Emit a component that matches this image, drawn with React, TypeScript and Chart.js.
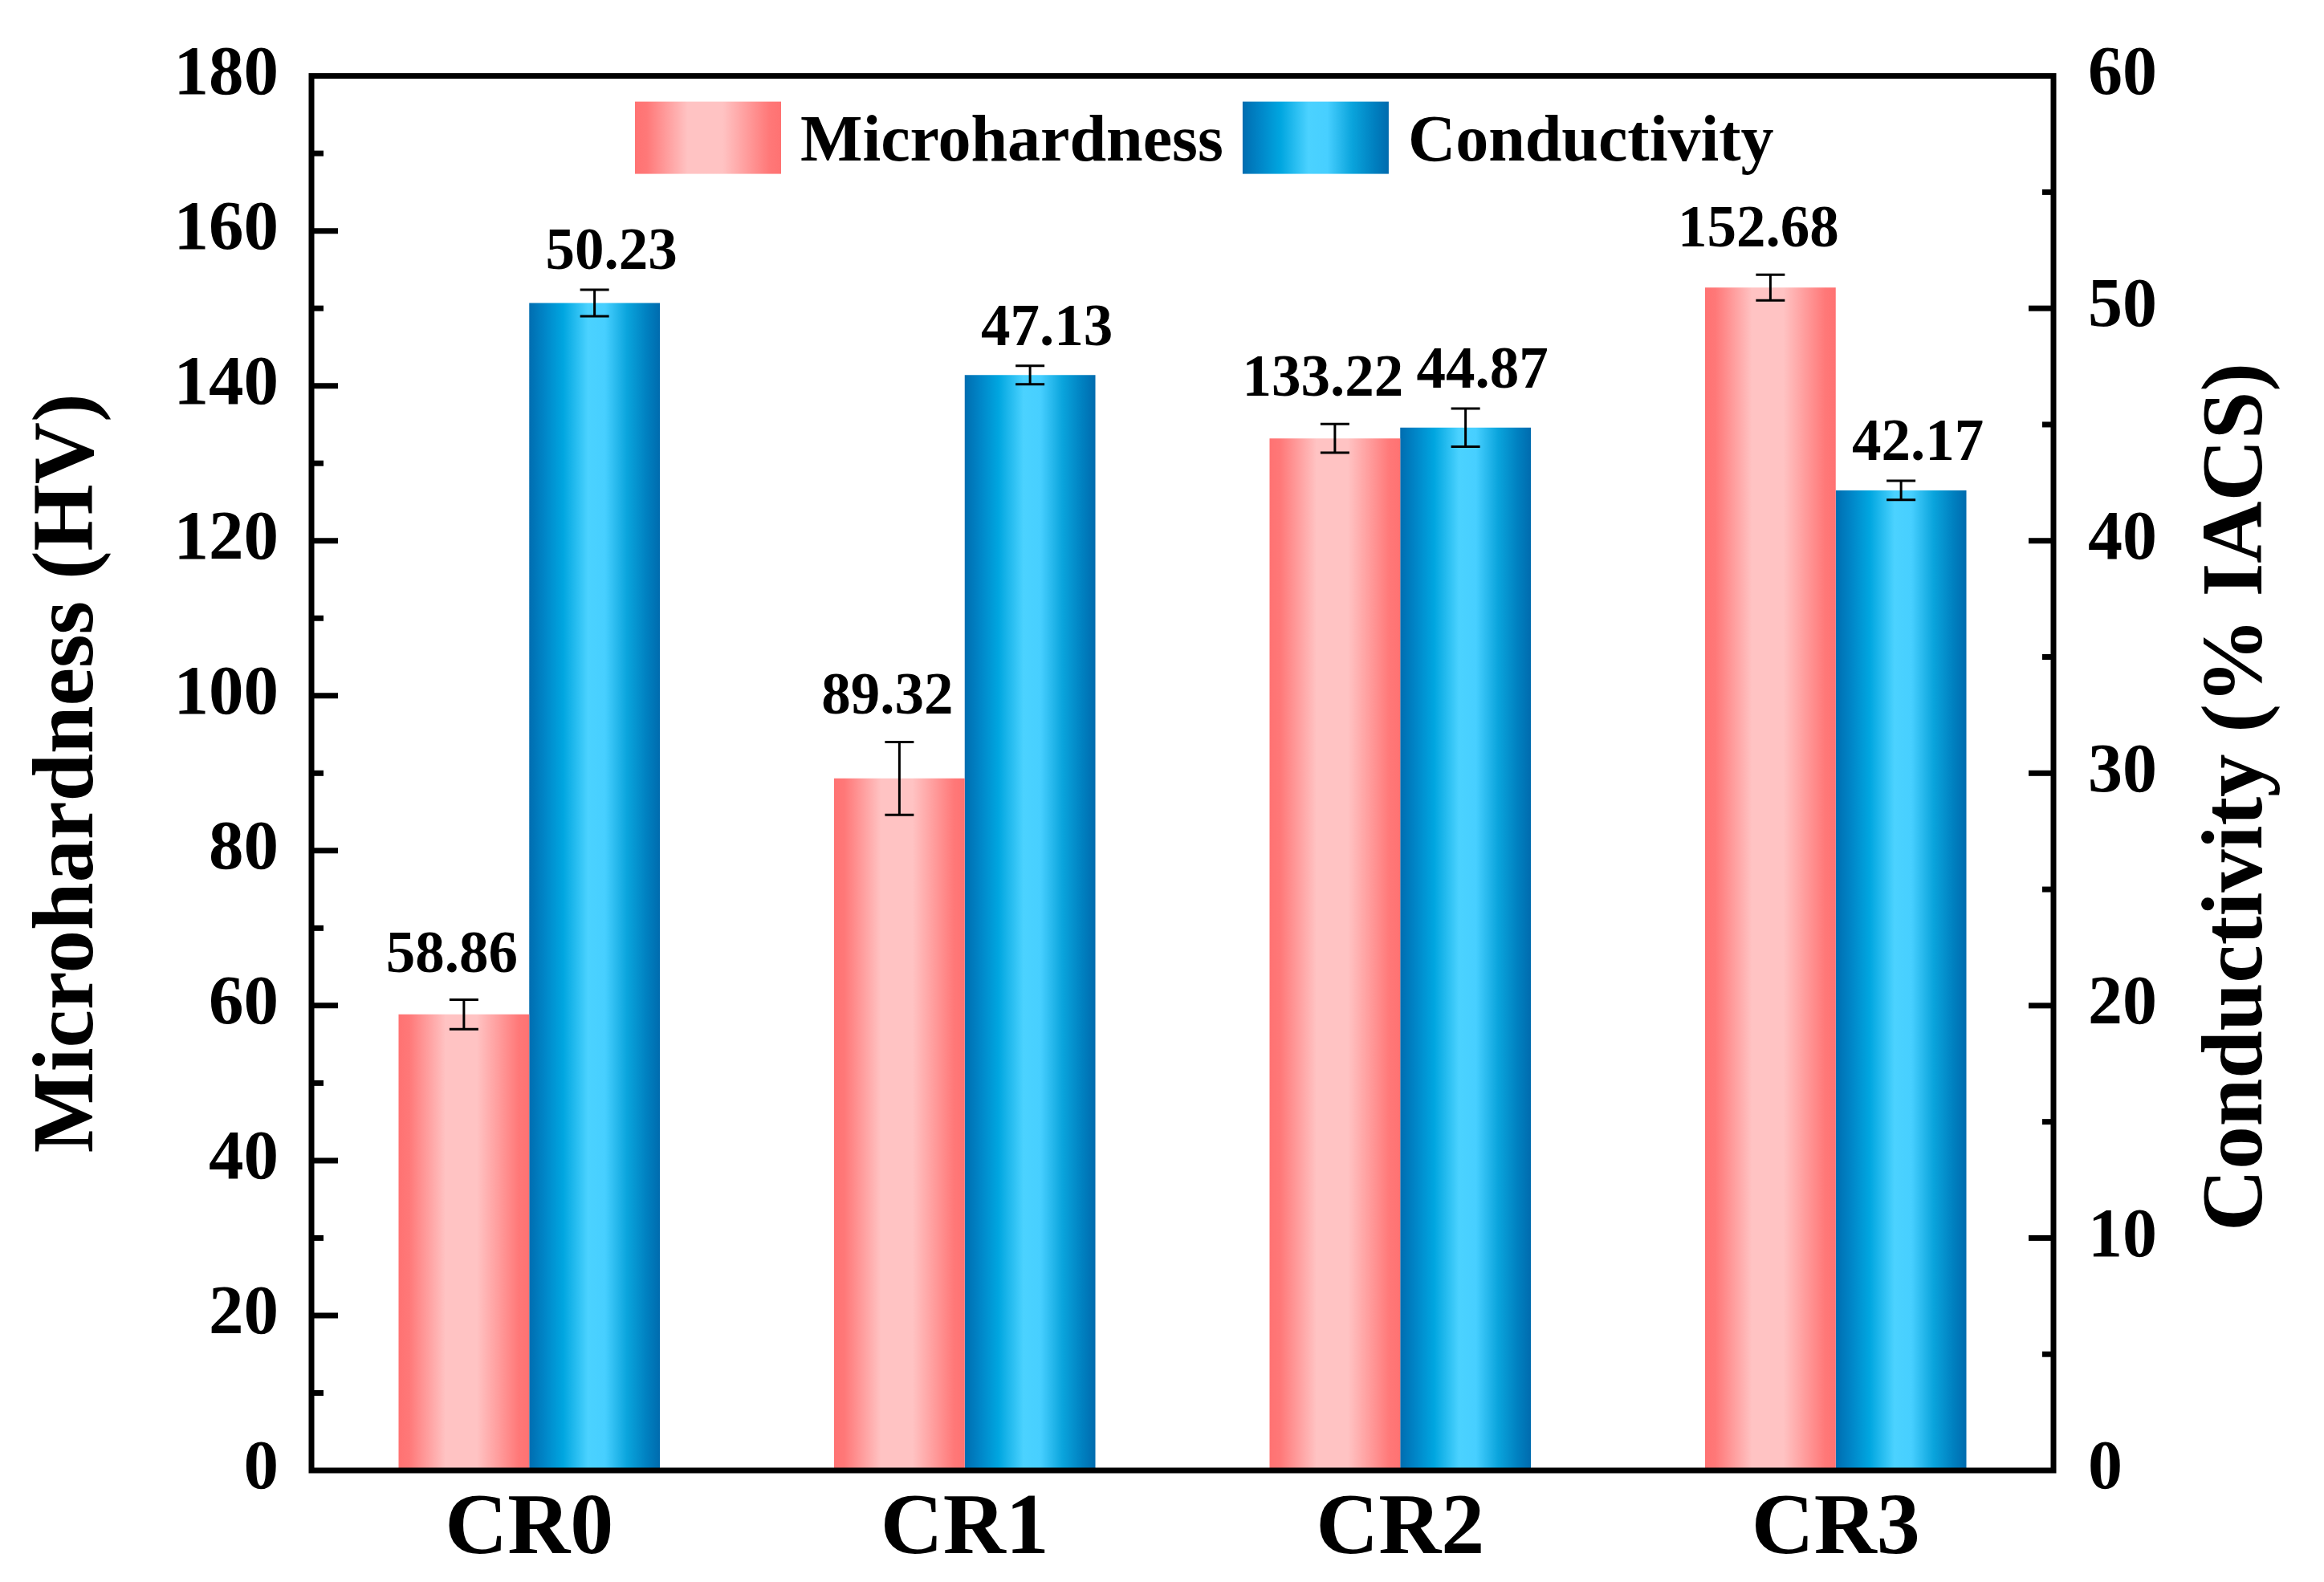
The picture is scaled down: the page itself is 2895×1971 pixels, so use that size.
import React, { useEffect, useRef } from 'react';
import { Chart, registerables } from 'chart.js';

Chart.register(...registerables);

const categories = ['CR0', 'CR1', 'CR2', 'CR3'];
const seriesNames = ['Microhardness', 'Conductivity'];
const microhardness = [58.86, 89.32, 133.22, 152.68];
const microhardnessErr = [1.9, 4.7, 1.85, 1.65];
const conductivity = [50.23, 47.13, 44.87, 42.17];
const conductivityErr = [0.57, 0.4, 0.82, 0.41];
const leftAxis = { min: 0, max: 180, step: 20 };
const rightAxis = { min: 0, max: 60, step: 10 };
const leftTitle = 'Microhardness (HV)';
const rightTitle = 'Conductivity (% IACS)';

const W = 2895;
const H = 1971;
const FONT = "'Liberation Serif', 'Times New Roman', serif";
const CAT_PCT = 0.6;

const pinkStops: [number, string][] = [
  [0, '#FF7272'], [0.08, '#FF7878'], [0.36, '#FFC3C3'], [0.6, '#FFC3C3'], [0.92, '#FF7878'], [1, '#FF7272'],
];
const blueStops: [number, string][] = [
  [0, '#006DB0'], [0.12, '#0086C8'], [0.26, '#00A6E0'], [0.45, '#4BD2FF'], [0.58, '#47CFFF'],
  [0.75, '#0AA4DC'], [0.9, '#0080C0'], [1, '#006BAE'],
];

function grad(ctx: CanvasRenderingContext2D, l: number, r: number, stops: [number, string][]) {
  const g = ctx.createLinearGradient(l, 0, r, 0);
  stops.forEach(([o, c]) => g.addColorStop(o, c));
  return g;
}

function barFill(stops: [number, string][], fallback: string) {
  return (c: any) => {
    const chart = c.chart;
    const xs = chart.scales && chart.scales.x;
    if (!xs || !chart.chartArea || c.dataIndex === undefined) return fallback;
    const center = xs.getPixelForValue(c.dataIndex);
    const catW = (xs.right - xs.left) / categories.length;
    const half = (catW * CAT_PCT) / 2;
    const left = c.datasetIndex === 0 ? center - half : center;
    return grad(chart.ctx, left, left + half, stops);
  };
}

const decorPlugin = {
  id: 'decor',
  afterDatasetsDraw(chart: any) {
    const { ctx, chartArea: a, scales } = chart;
    ctx.save();
    ctx.strokeStyle = '#000';
    ctx.fillStyle = '#000';
    // frame
    ctx.lineWidth = 7;
    ctx.strokeRect(a.left, a.top, a.right - a.left, a.bottom - a.top);
    // inward ticks
    ctx.lineWidth = 7;
    const y = scales.y;
    for (let v = leftAxis.min; v <= leftAxis.max; v += leftAxis.step / 2) {
      const p = y.getPixelForValue(v);
      const major = Math.round(v / leftAxis.step) * leftAxis.step === v;
      if (v === leftAxis.min || v === leftAxis.max) continue;
      ctx.beginPath();
      ctx.moveTo(a.left, p);
      ctx.lineTo(a.left + (major ? 33 : 15), p);
      ctx.stroke();
    }
    const y1 = scales.y1;
    for (let v = rightAxis.min; v <= rightAxis.max; v += rightAxis.step / 2) {
      const p = y1.getPixelForValue(v);
      const major = Math.round(v / rightAxis.step) * rightAxis.step === v;
      if (v === rightAxis.min || v === rightAxis.max) continue;
      ctx.beginPath();
      ctx.moveTo(a.right, p);
      ctx.lineTo(a.right - (major ? 31 : 14), p);
      ctx.stroke();
    }
    // error bars and value labels
    const sets = [
      { vals: microhardness, errs: microhardnessErr, scale: y, dx: -15, gap: 35 },
      { vals: conductivity, errs: conductivityErr, scale: y1, dx: 21, gap: 26 },
    ];
    sets.forEach((s, di) => {
      const meta = chart.getDatasetMeta(di);
      meta.data.forEach((el: any, i: number) => {
        const cx = el.x;
        const top = s.scale.getPixelForValue(s.vals[i] + s.errs[i]);
        const bot = s.scale.getPixelForValue(s.vals[i] - s.errs[i]);
        ctx.lineWidth = 3;
        ctx.beginPath();
        ctx.moveTo(cx, top);
        ctx.lineTo(cx, bot);
        ctx.moveTo(cx - 18, top);
        ctx.lineTo(cx + 18, top);
        ctx.moveTo(cx - 18, bot);
        ctx.lineTo(cx + 18, bot);
        ctx.stroke();
        ctx.font = `bold 73px ${FONT}`;
        ctx.textAlign = 'center';
        ctx.textBaseline = 'alphabetic';
        ctx.fillText(s.vals[i].toFixed(2), cx + s.dx, top - s.gap);
      });
    });
    ctx.restore();
  },
  afterDraw(chart: any) {
    const { ctx, chartArea: a } = chart;
    ctx.save();
    // legend
    ctx.font = `bold 82px ${FONT}`;
    ctx.textAlign = 'left';
    ctx.textBaseline = 'alphabetic';
    ctx.fillStyle = '#000';
    let x = a.left + 403;
    const bt = a.top + 32;
    const bw = 182;
    const bh = 90;
    [pinkStops, blueStops].forEach((st, i) => {
      ctx.fillStyle = grad(ctx, x, x + bw, st);
      ctx.fillRect(x, bt, bw, bh);
      x += bw + 24;
      ctx.fillStyle = '#000';
      ctx.fillText(seriesNames[i], x, bt + 73);
      x += ctx.measureText(seriesNames[i]).width + 24;
    });
    // right axis title, reading bottom to top
    ctx.font = `bold 107px ${FONT}`;
    ctx.textAlign = 'center';
    ctx.translate(2817, 993);
    ctx.rotate(-Math.PI / 2);
    ctx.fillText(rightTitle, 0, 0);
    ctx.restore();
  },
};

export default function App() {
  const ref = useRef<HTMLCanvasElement | null>(null);
  useEffect(() => {
    if (!ref.current) return;
    const chart = new Chart(ref.current, {
      type: 'bar',
      data: {
        labels: categories,
        datasets: [
          {
            label: seriesNames[0],
            data: microhardness,
            yAxisID: 'y',
            backgroundColor: barFill(pinkStops, '#FF9A9A'),
            borderWidth: 0,
            barPercentage: 1,
            categoryPercentage: CAT_PCT,
          },
          {
            label: seriesNames[1],
            data: conductivity,
            yAxisID: 'y1',
            backgroundColor: barFill(blueStops, '#1AA8E0'),
            borderWidth: 0,
            barPercentage: 1,
            categoryPercentage: CAT_PCT,
          },
        ],
      },
      options: {
        responsive: false,
        animation: false,
        devicePixelRatio: 1,
        layout: { padding: { top: 85, left: 0, right: 0, bottom: 0 } },
        plugins: { legend: { display: false }, tooltip: { enabled: false } },
        scales: {
          x: {
            grid: { display: false, drawTicks: false },
            border: { display: false },
            ticks: {
              color: '#000',
              padding: 10,
              font: { family: FONT, weight: 'bold', size: 108, lineHeight: 1.2 },
            },
            afterFit: (s: any) => { s.height = H - 1832; },
          },
          y: {
            position: 'left',
            min: leftAxis.min,
            max: leftAxis.max,
            grid: { display: false, drawTicks: false },
            border: { display: false },
            ticks: {
              stepSize: leftAxis.step,
              color: '#000',
              padding: 41,
              font: { family: FONT, weight: 'bold', size: 87 },
            },
            title: {
              display: true,
              text: leftTitle,
              color: '#000',
              padding: { top: 23, bottom: 0 },
              font: { family: FONT, weight: 'bold', size: 107, lineHeight: 1.2 },
            },
            afterFit: (s: any) => { s.width = 388; },
          },
          y1: {
            position: 'right',
            min: rightAxis.min,
            max: rightAxis.max,
            grid: { display: false, drawTicks: false },
            border: { display: false },
            ticks: {
              stepSize: rightAxis.step,
              color: '#000',
              padding: 43,
              font: { family: FONT, weight: 'bold', size: 86 },
            },
            afterFit: (s: any) => { s.width = W - 2558; },
          },
        },
      },
      plugins: [decorPlugin],
    } as any);
    return () => chart.destroy();
  }, []);
  return (
    <div style={{ position: 'fixed', left: 0, top: 0, width: W, height: H, background: '#fff' }}>
      <canvas ref={ref} width={W} height={H} style={{ display: 'block', width: W, height: H }} />
    </div>
  );
}
